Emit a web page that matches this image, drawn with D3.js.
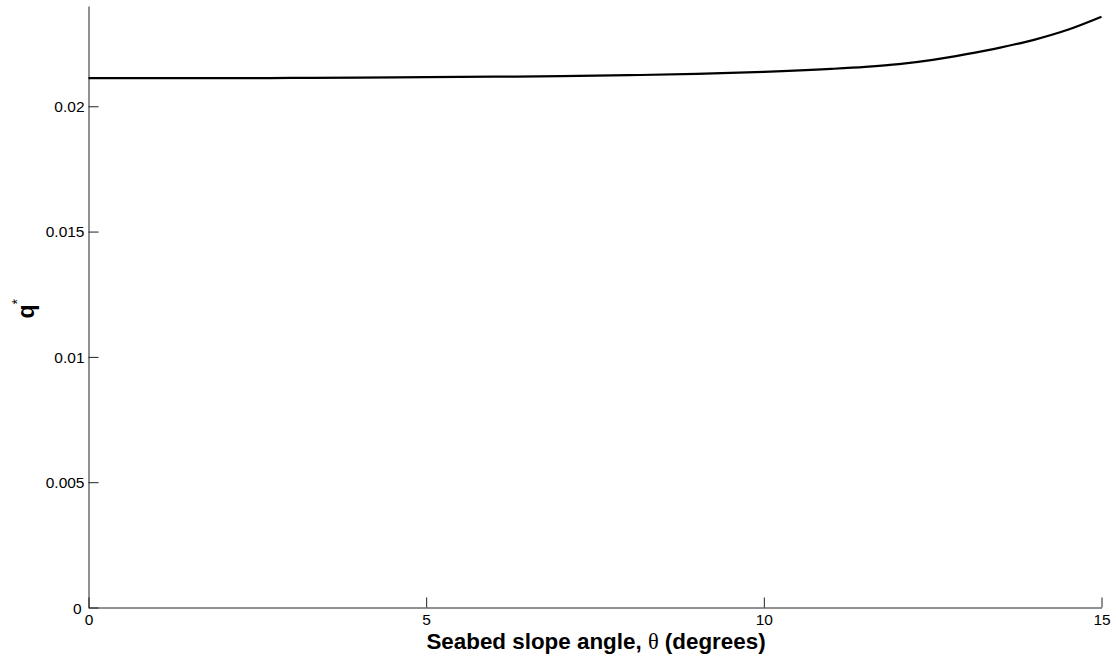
<!DOCTYPE html>
<html>
<head>
<meta charset="utf-8">
<script src="https://cdn.jsdelivr.net/npm/d3@7"></script>
<style>
  body { margin: 0; background: #fff; }
  svg { display: block; font-family: "Liberation Sans", Arial, sans-serif; }
</style>
</head>
<body>
<div id="chart"></div>
<script>
const width = 1116, height = 657;
const margin = {top: 6, right: 14, bottom: 49, left: 88.5};

// slope angle (degrees) and q*
const theta = [0, 1, 2, 3, 4, 5, 6, 7, 8, 9, 10, 11, 11.5, 12, 12.5, 13, 13.5, 14, 14.5, 15];
const qStar = [0.02112, 0.02112, 0.02112, 0.02113, 0.02114, 0.02116, 0.02118, 0.02120, 0.02124, 0.02129,
               0.02137, 0.02149, 0.02157, 0.02168, 0.02185, 0.02208, 0.02234, 0.02265, 0.02305, 0.02357];
const xTicks = [0, 5, 10, 15];
const yTicks = [0, 0.005, 0.01, 0.015, 0.02];

const svg = d3.select("#chart").append("svg")
    .attr("width", width)
    .attr("height", height);

const x = d3.scaleLinear().domain([0, 15]).range([margin.left, 1101.5]);
const y = d3.scaleLinear().domain([0, 0.024]).range([607.5, margin.top]);

const xAxis = svg.append("g")
    .attr("transform", `translate(0,${y(0)})`)
    .call(d3.axisBottom(x).tickValues(xTicks).tickSizeInner(-10).tickSizeOuter(0).tickPadding(6.5));

const yAxis = svg.append("g")
    .attr("transform", `translate(${x(0)},0)`)
    .call(d3.axisLeft(y).tickValues(yTicks).tickSizeInner(-10).tickSizeOuter(0).tickPadding(4)
        .tickFormat(d => d3.format("")(+d.toFixed(3))));

[xAxis, yAxis].forEach(a => {
    a.selectAll("path, line").attr("stroke", "#222").attr("stroke-width", 1);
    a.selectAll("text")
        .attr("fill", "#000")
        .style("font-size", "15.5px")
        .style("font-family", "'Liberation Sans', Arial, sans-serif");
});
yAxis.selectAll("text").attr("dy", "0.34em");
// the 0 on the y axis sits a bit further left in the original
yAxis.selectAll(".tick").filter(d => d === 0).select("text").attr("x", -7).attr("dy", "0.38em");

const line = d3.line()
    .x((d, i) => x(theta[i]))
    .y(d => y(d))
    .curve(d3.curveMonotoneX);

svg.append("path")
    .datum(qStar)
    .attr("fill", "none")
    .attr("stroke", "#000")
    .attr("stroke-width", 2.2)
    .attr("d", line);

// x label
const xl = svg.append("text")
    .attr("x", 596)
    .attr("y", 649)
    .attr("text-anchor", "middle")
    .style("font-size", "22.4px")
    .style("font-weight", "bold")
    .attr("fill", "#000");
xl.append("tspan").text("Seabed slope angle, ");
xl.append("tspan").style("font-family", "'Liberation Serif', 'DejaVu Serif', serif")
    .style("font-weight", "normal").text("θ");
xl.append("tspan").text(" (degrees)");

// y label q*
const yl = svg.append("text")
    .attr("transform", "translate(33.6,318.5) rotate(-90)")
    .attr("text-anchor", "start")
    .style("font-size", "23px")
    .style("font-weight", "bold")
    .attr("fill", "#000");
yl.append("tspan").text("q");
yl.append("tspan").attr("dy", "-0.8em").style("font-size", "14px").style("font-weight", "normal").text("*");
</script>
</body>
</html>
